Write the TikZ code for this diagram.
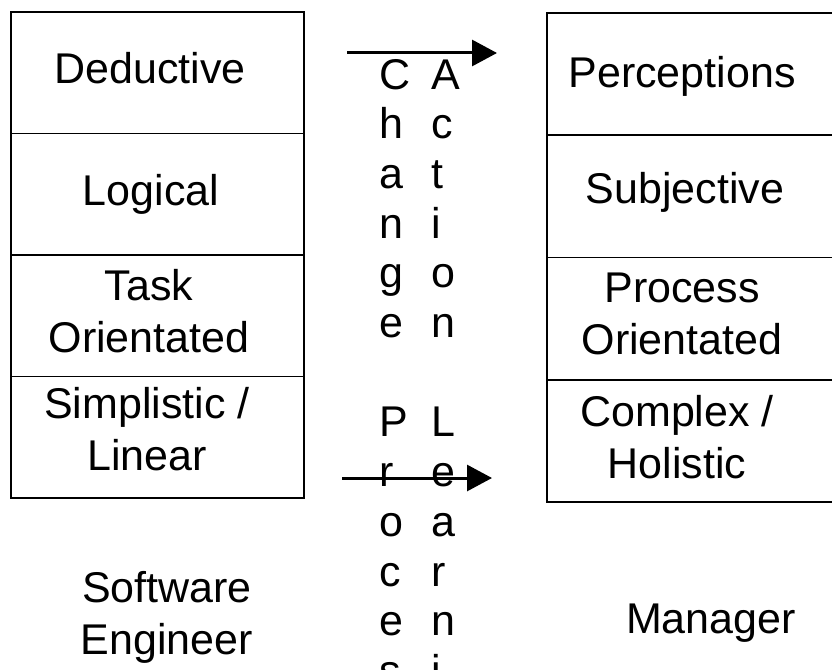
\documentclass[tikz,border=0pt]{standalone}
\usepackage{fontspec}
\setmainfont{Liberation Sans}
\usetikzlibrary{arrows.meta}
\begin{document}
\begin{tikzpicture}[x=1pt,y=-1pt,
    feld/.style={draw,line width=1.6pt,rectangle,inner sep=0pt,minimum height=121.5pt},
    txt/.style={font=\fontsize{43}{52}\selectfont,align=center,inner sep=0pt,anchor=base},
    spalte/.style={font=\fontsize{43}{49.7}\selectfont,align=left,inner sep=0pt,anchor=base west},
    pfeil/.style={line width=3pt,-{Triangle[length=25pt,width=26pt]}}]
    \useasboundingbox (0,0) rectangle (832,669);
    \clip (0,0) rectangle (832,669);
    \node[feld,minimum width=293pt] (l1) at (157.5,72.75) {};
    \node[feld,minimum width=293pt] (l2) at (157.5,194.25) {};
    \node[feld,minimum width=293pt] (l3) at (157.5,315.75) {};
    \node[feld,minimum width=293pt] (l4) at (157.5,437.25) {};
    \node[feld,minimum width=353pt,minimum height=122.25pt] (r1) at (723.5,74.1) {};
    \node[feld,minimum width=353pt,minimum height=122.25pt] (r2) at (723.5,196.4) {};
    \node[feld,minimum width=353pt,minimum height=122.25pt] (r3) at (723.5,318.6) {};
    \node[feld,minimum width=353pt,minimum height=122.25pt] (r4) at (723.5,440.9) {};
    \node[txt] (deduktiv) at (150,83) {Deductive};
    \node[txt] (logisch) at (151,205) {Logical};
    \node[txt] (aufgabe) at (149,352) {Task\\Orientated};
    \node[txt] (linear) at (147,470) {Simplistic /\\Linear};
    \node[txt] (wahrn) at (682,87) {Perceptions};
    \node[txt] (subjektiv) at (685,203) {Subjective};
    \node[txt] (prozess) at (682,354) {Process\\Orientated};
    \node[txt] (holistisch) at (677,478) {Complex /\\Holistic};
    \node[txt] (engineer) at (167,654) {Software\\Engineer};
    \node[txt] (manager) at (711,633) {Manager};
    \node[spalte] (change) at (379,735.1) {C\\h\\a\\n\\g\\e\\[49.7pt]P\\r\\o\\c\\e\\s\\s};
    \node[spalte] (action) at (431,784.8) {A\\c\\t\\i\\o\\n\\[49.7pt]L\\e\\a\\r\\n\\i\\n\\g};
    \coordinate (o1) at (347,53);
    \coordinate (o2) at (497,53);
    \coordinate (u1) at (342,478);
    \coordinate (u2) at (492,478);
    \draw[pfeil] (o1)--(o2);
    \draw[pfeil] (u1)--(u2);
\end{tikzpicture}
\end{document}
